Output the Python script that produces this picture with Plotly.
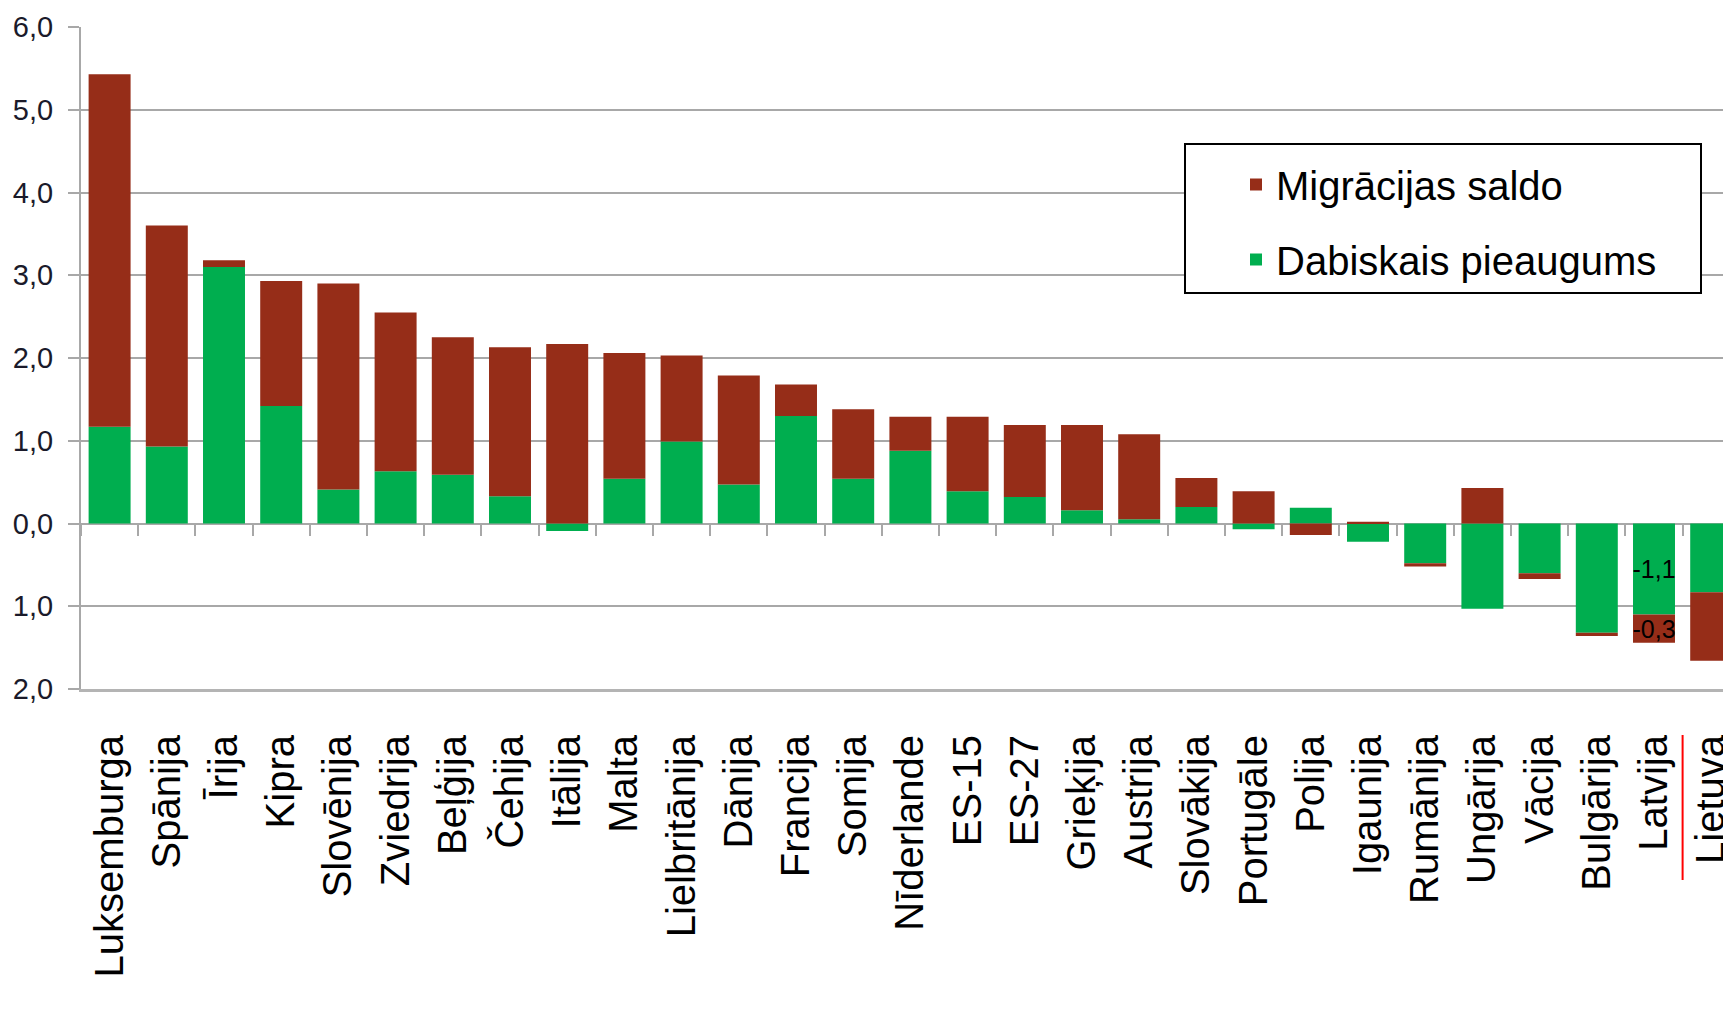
import plotly.graph_objects as go

# ---- data ----
categories = ["Luksemburga", "Spānija", "Īrija", "Kipra", "Slovēnija", "Zviedrija",
              "Beļģija", "Čehija", "Itālija", "Malta", "Lielbritānija", "Dānija",
              "Francija", "Somija", "Nīderlande", "ES-15", "ES-27", "Grieķija",
              "Austrija", "Slovākija", "Portugāle", "Polija", "Igaunija", "Rumānija",
              "Ungārija", "Vācija", "Bulgārija", "Latvija", "Lietuva"]

dabiskais = [1.17, 0.93, 3.10, 1.42, 0.41, 0.63, 0.59, 0.33, -0.09, 0.54,
             0.99, 0.47, 1.30, 0.54, 0.88, 0.39, 0.32, 0.16, 0.05, 0.20,
             -0.07, 0.19, -0.22, -0.48, -1.03, -0.60, -1.32, -1.10, -0.83]

migracija = [4.26, 2.67, 0.08, 1.51, 2.49, 1.92, 1.66, 1.80, 2.17, 1.52,
             1.04, 1.32, 0.38, 0.84, 0.41, 0.90, 0.87, 1.03, 1.03, 0.35,
             0.39, -0.14, 0.02, -0.04, 0.43, -0.07, -0.04, -0.34, -0.83]

labelled_categories = ["Latvija"]

y_tick_values = [-2, -1, 0, 1, 2, 3, 4, 5, 6]
y_tick_labels = ["2,0", "1,0", "0,0", "1,0", "2,0", "3,0", "4,0", "5,0", "6,0"]

series_names = ["Dabiskais pieaugums", "Migrācijas saldo"]
highlight_boundary = ["Latvija", "Lietuva"]

# ---- styling ----
GREEN = "#00AE4F"
BROWN = "#962D18"
GRID = "#A8A8A8"
SANS = "Liberation Sans, Arial, sans-serif"


def fmt(v):
    return f"{v:.1f}".replace(".", ",")


def labels_for(values):
    return [fmt(v) if c in labelled_categories else "" for c, v in zip(categories, values)]


W, H = 1723, 1012
ML, MR, MT, MB = 81, 0, 27, 323
plot_w = W - ML - MR
plot_h = H - MT - MB

fig = go.Figure()

traces = [(series_names[0], dabiskais, GREEN, 2), (series_names[1], migracija, BROWN, 1)]
for name, vals, col, rank in traces:
    fig.add_trace(go.Bar(
        x=categories, y=vals, name=name, marker=dict(color=col, line=dict(width=0)),
        legendgroup=name, legendrank=rank,
        text=labels_for(vals), textposition="inside", insidetextanchor="middle",
        textangle=0, constraintext="none",
        insidetextfont=dict(family=SANS, size=25, color="#000000"),
        hoverinfo="x+y",
    ))

# invisible helper trace for the zero-line tick axis
fig.add_trace(go.Scatter(x=categories, y=[None] * len(categories), xaxis="x2",
                         showlegend=False, hoverinfo="skip", mode="markers"))

x_end = -0.5 + plot_w / 57.2
y_min, y_max = y_tick_values[0], y_tick_values[-1]

fig.update_layout(
    width=W, height=H,
    margin=dict(l=ML, r=MR, t=MT, b=MB, pad=0, autoexpand=False),
    paper_bgcolor="white", plot_bgcolor="white",
    barmode="relative", bargap=0.266,
    showlegend=True,
    legend=dict(
        x=(1236 - ML) / plot_w, y=(MT + plot_h - 152) / plot_h,
        xanchor="left", yanchor="top",
        bgcolor="rgba(0,0,0,0)", borderwidth=0,
        font=dict(family=SANS, size=40, color="#000000"),
        traceorder="grouped", tracegroupgap=20,
    ),
    xaxis=dict(
        type="category", range=[-0.5, x_end],
        showgrid=False, zeroline=False,
        showline=True, linecolor="#B4B4B4", linewidth=3,
        ticks="", tickangle=-90, ticklabelstandoff=27,
        tickfont=dict(family=SANS, size=40, color="#000000"),
    ),
    xaxis2=dict(
        type="category", overlaying="x", matches="x", anchor="free",
        position=(0 - y_min) / (y_max - y_min),
        showgrid=False, zeroline=False, showline=False,
        ticks="outside", ticklen=11, tickwidth=2, tickcolor=GRID,
        tickson="boundaries", showticklabels=False,
    ),
    yaxis=dict(
        range=[y_min, y_max], tickvals=y_tick_values, ticktext=y_tick_labels,
        showgrid=True, gridcolor=GRID, gridwidth=2,
        zeroline=True, zerolinecolor=GRID, zerolinewidth=2,
        showline=True, linecolor=GRID, linewidth=2,
        ticks="outside", ticklen=11, tickwidth=2, tickcolor=GRID,
        ticklabelstandoff=9,
        tickfont=dict(family=SANS, size=29, color="#1a1a2a"),
    ),
    shapes=[
        # legend frame
        dict(type="rect", xref="paper", yref="paper",
             x0=(1185 - ML) / plot_w, x1=(1701 - ML) / plot_w,
             y0=(MT + plot_h - 293) / plot_h, y1=(MT + plot_h - 144) / plot_h,
             line=dict(color="#000000", width=2), fillcolor="white", layer="above"),
        # red separator between Latvija and Lietuva labels
        dict(type="line", xref="x", yref="paper",
             x0=categories.index(highlight_boundary[0]) + 0.5,
             x1=categories.index(highlight_boundary[0]) + 0.5,
             y0=-(735 - (MT + plot_h)) / plot_h, y1=-(880 - (MT + plot_h)) / plot_h,
             line=dict(color="#FF0000", width=2)),
    ],
)

fig.write_html("out.html", config={"displayModeBar": False},
               post_script="document.body.style.margin='0';document.body.style.overflow='hidden';")
